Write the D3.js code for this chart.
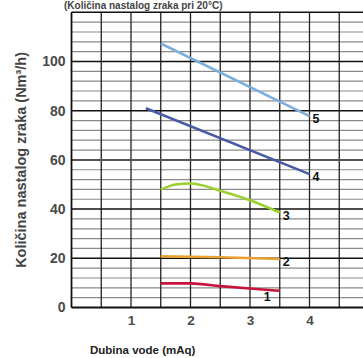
<!DOCTYPE html>
<html><head><meta charset="utf-8">
<script src="https://cdn.jsdelivr.net/npm/d3@7"></script>
<style>body{margin:0;background:#fff;overflow:hidden}svg{display:block}</style>
</head><body>
<script>
const xTicks = [1, 2, 3, 4];
const yTicks = [0, 20, 40, 60, 80, 100];
const seriesNames = ["1", "2", "3", "4", "5"];
const seriesColors = ["#c8143c", "#e9a232", "#9ad12e", "#4a5ba6", "#7eaedc"];
const s1x = [1.5, 2.0, 2.5, 3.0, 3.5];
const s1y = [9.8, 9.8, 8.7, 7.7, 6.8];
const s2x = [1.5, 2.5, 3.5];
const s2y = [20.8, 20.4, 19.7];
const s3x = [1.5, 1.75, 2.0, 2.5, 3.0, 3.5];
const s3y = [47.9, 50.0, 50.4, 47.5, 43.6, 38.6];
const s4x = [1.25, 4.0];
const s4y = [81, 54.2];
const s5x = [1.5, 4.0];
const s5y = [107.3, 77.8];

const W = 363, H = 358;
const FONT = "Liberation Sans, Arial, sans-serif";
const svg = d3.select("body").append("svg").attr("width", W).attr("height", H);
const x = d3.scaleLinear().domain([0, 5]).range([71.5, 369]);
const y = d3.scaleLinear().domain([0, 120]).range([307.5, 12.3]);

// grid
const g = svg.append("g");
g.selectAll("line.hmin").data(d3.range(0, 121, 4).filter(v => v % 20 !== 0)).join("line")
  .attr("x1", x(0)).attr("x2", x(5)).attr("y1", d => y(d)).attr("y2", d => y(d))
  .attr("stroke", "#8a8a8a").attr("stroke-width", 1.2);
g.selectAll("line.v").data(d3.range(0.5, 5.01, 0.5)).join("line")
  .attr("x1", d => x(d)).attr("x2", d => x(d)).attr("y1", y(0)).attr("y2", y(120))
  .attr("stroke", "#222").attr("stroke-width", 1.3);
g.selectAll("line.hmaj").data(d3.range(20, 121, 20)).join("line")
  .attr("x1", x(0)).attr("x2", x(5)).attr("y1", d => y(d)).attr("y2", d => y(d))
  .attr("stroke", d => d === 60 ? "#555" : "#111").attr("stroke-width", d => d === 60 ? 2 : 1.5);
// frame
g.append("line").attr("x1", x(0)).attr("x2", x(0)).attr("y1", y(0)).attr("y2", y(120)).attr("stroke", "#111").attr("stroke-width", 1.8);
g.append("line").attr("x1", x(0)).attr("x2", x(5)).attr("y1", y(0)).attr("y2", y(0)).attr("stroke", "#111").attr("stroke-width", 1.8);

// axes tick labels
const xAxis = d3.axisBottom(x).tickValues(xTicks).tickSize(0).tickPadding(8).tickFormat(d3.format("d"));
const xa = svg.append("g").attr("transform", `translate(0,${y(0)})`).call(xAxis);
xa.select(".domain").remove();
xa.selectAll("text").attr("font-family", FONT).attr("font-size", 13.5).attr("font-weight", "bold").attr("fill", "#4a4a4a");
const yAxis = d3.axisLeft(y).tickValues(yTicks).tickSize(0).tickPadding(6).tickFormat(d3.format("d"));
const ya = svg.append("g").attr("transform", `translate(${x(0)},0)`).call(yAxis);
ya.select(".domain").remove();
ya.selectAll("text").attr("font-family", FONT).attr("font-size", 14).attr("font-weight", "bold").attr("fill", "#4a4a4a");

// series
const xs = [s1x, s2x, s3x, s4x, s5x], ys = [s1y, s2y, s3y, s4y, s5y];
const line = d3.line().x(d => x(d[0])).y(d => y(d[1])).curve(d3.curveMonotoneX);
xs.forEach((sx, i) => {
  const pts = sx.map((v, j) => [v, ys[i][j]]);
  svg.append("path").attr("d", line(pts)).attr("fill", "none")
    .attr("stroke", seriesColors[i]).attr("stroke-width", 2.6).attr("stroke-linecap", "butt");
  const last = pts[pts.length - 1];
  const off = i === 0 ? [-16, 10] : [3, 7];
  svg.append("text").attr("x", x(last[0]) + off[0]).attr("y", y(last[1]) + off[1])
    .attr("font-family", FONT).attr("font-size", 12.5).attr("font-weight", "bold")
    .attr("fill", "#111").text(seriesNames[i]);
});

// titles
svg.append("text").attr("x", 64).attr("y", 9)
  .attr("font-family", FONT).attr("font-size", 10).attr("font-weight", "bold").attr("fill", "#444")
  .text("(Količina nastalog zraka pri 20°C)");
svg.append("text").attr("transform", `translate(26,${y(60)}) rotate(-90)`).attr("text-anchor", "middle")
  .attr("font-family", FONT).attr("font-size", 14.5).attr("font-weight", "bold").attr("fill", "#444")
  .text("Količina nastalog zraka (Nm³/h)");
svg.append("text").attr("x", 90).attr("y", 354)
  .attr("font-family", FONT).attr("font-size", 11.5).attr("font-weight", "bold").attr("fill", "#222")
  .text("Dubina vode (mAq)");
</script>
</body></html>
